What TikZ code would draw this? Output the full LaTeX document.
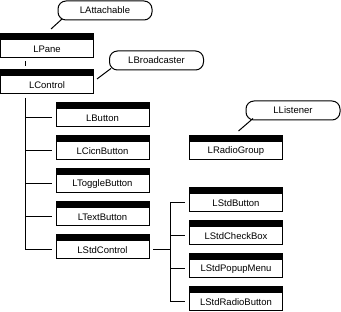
\documentclass[tikz,border=0pt]{standalone}
\usepackage{fontspec}
\setmainfont{Liberation Sans}
\begin{document}
\begin{tikzpicture}[x=1pt,y=-1pt,
  cls/.style={draw, line width=1pt, minimum width=93pt, minimum height=18pt, inner sep=0pt,
    font=\fontsize{9.5}{11}\selectfont},
  iface/.style={draw, line width=1pt, rounded corners=8pt, minimum width=94pt, minimum height=19pt, inner sep=0pt,
    font=\fontsize{9.5}{11}\selectfont},
  conn/.style={line width=1pt}]
\useasboundingbox (0,0) rectangle (341,312);
% class boxes (centre of white part = top + 15)
\node[cls] (pane) at (47,49) {LPane};
\node[cls] (control) at (47,85) {LControl};
\node[cls] (button) at (102.5,118) {LButton};
\node[cls] (cicn) at (102.5,151) {LCicnButton};
\node[cls] (toggle) at (102.5,184) {LToggleButton};
\node[cls] (text) at (102.5,217) {LTextButton};
\node[cls] (stdcontrol) at (102.5,250) {LStdControl};
\node[cls] (radiogroup) at (236,151) {LRadioGroup};
\node[cls] (stdbutton) at (236,203) {LStdButton};
\node[cls] (stdcheck) at (236,236) {LStdCheckBox};
\node[cls] (stdpopup) at (236,269) {LStdPopupMenu};
\node[cls] (stdradio) at (236,302) {LStdRadioButton};
% black title bars
\foreach \n in {pane,control,button,cicn,toggle,text,stdcontrol,radiogroup,stdbutton,stdcheck,stdpopup,stdradio}
  \fill ([yshift=6pt]\n.north west) rectangle (\n.north east);
% interfaces
\node[iface] (attach) at (105,10.5) {LAttachable};
\node[iface] (broad) at (156.5,60.5) {LBroadcaster};
\node[iface] (listen) at (293,110.5) {LListener};
% interface lines
\coordinate (a1) at (51,29); \coordinate (a2) at (62,19);
\coordinate (b1) at (97,79); \coordinate (b2) at (111,68.5);
\coordinate (c1) at (238.5,131); \coordinate (c2) at (253,118.5);
\draw[conn] (a1) -- (a2);
\draw[conn] (b1) -- (b2);
\draw[conn] (c1) -- (c2);
% LPane -> LControl stub
\coordinate (p1) at (25.5,61); \coordinate (p2) at (25.5,66);
\draw[conn] (p1) -- (p2);
% left trunk
\coordinate (trunk) at (25.5,98);
\draw[conn] (trunk) |- ([xshift=-4pt]stdcontrol.west);
\foreach \n in {button,cicn,toggle,text}
  \draw[conn] (trunk |- \n.west) -- ([xshift=-4pt]\n.west);
% right trunk
\coordinate (rtrunk) at (170.5,203);
\draw[conn] ([xshift=3.5pt]stdcontrol.east) -- (stdcontrol.east -| rtrunk);
\draw[conn] ([xshift=-4pt]stdbutton.west) -| (rtrunk) |- ([xshift=-4pt]stdradio.west);
\foreach \n in {stdcheck,stdpopup}
  \draw[conn] (rtrunk |- \n.west) -- ([xshift=-4pt]\n.west);
\end{tikzpicture}
\end{document}
